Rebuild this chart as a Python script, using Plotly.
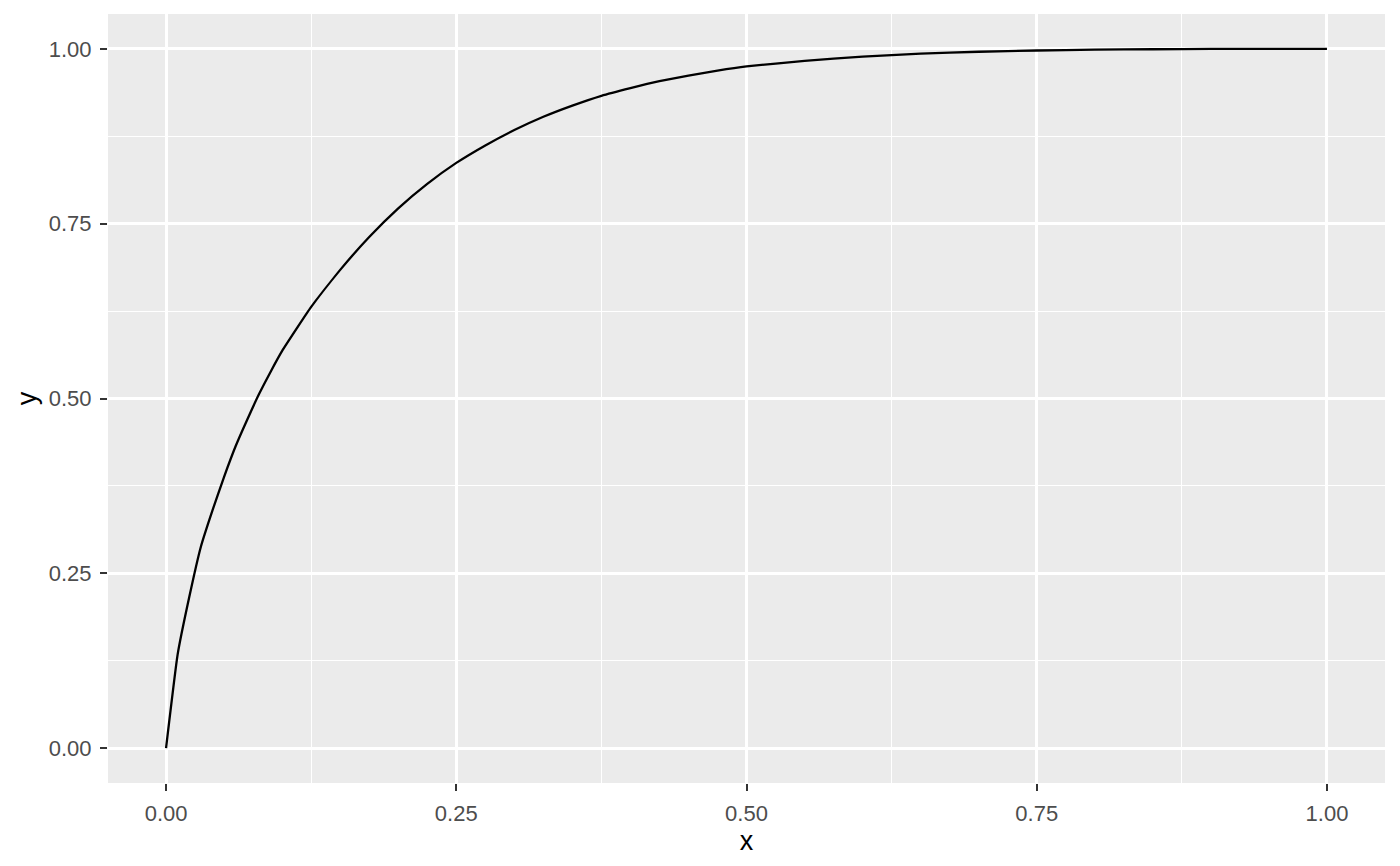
import plotly.graph_objects as go

x_vals = [0, 0.01, 0.02, 0.03, 0.04, 0.05, 0.06, 0.07, 0.08, 0.09, 0.10,
          0.125, 0.15, 0.175, 0.20, 0.225, 0.25, 0.275, 0.30, 0.325, 0.35,
          0.375, 0.40, 0.425, 0.45, 0.475, 0.50, 0.55, 0.60, 0.65, 0.70,
          0.75, 0.80, 0.85, 0.90, 1.00]
y_vals = [0.000, 0.134, 0.216, 0.288, 0.340, 0.388, 0.432, 0.470, 0.506, 0.538, 0.568,
          0.631, 0.684, 0.731, 0.772, 0.807, 0.837, 0.862, 0.884, 0.903, 0.919,
          0.933, 0.944, 0.954, 0.962, 0.969, 0.975, 0.983, 0.989, 0.9932, 0.9960,
          0.9978, 0.9990, 0.9996, 1.000, 1.000]

x_ticks = [0, 0.25, 0.5, 0.75, 1.0]
x_labels = ["0.00", "0.25", "0.50", "0.75", "1.00"]
y_ticks = [0, 0.25, 0.5, 0.75, 1.0]
y_labels = ["0.00", "0.25", "0.50", "0.75", "1.00"]

FONT = "Liberation Sans, Arial, sans-serif"

fig = go.Figure()
fig.add_trace(go.Scatter(x=x_vals, y=y_vals, mode="lines",
                         line=dict(color="black", width=2.3, shape="spline", smoothing=0.4),
                         showlegend=False))

axis_common = dict(
    showgrid=True, gridcolor="white", gridwidth=2.6,
    zeroline=False, showline=False,
    ticks="outside", ticklen=7, tickwidth=2.2, tickcolor="#333333",
    tickfont=dict(family=FONT, size=22, color="#4D4D4D"),
    title_font=dict(family=FONT, size=27, color="black"),
    minor=dict(showgrid=True, gridcolor="white", gridwidth=1.3, dtick=0.125, tick0=0, ticks=""),
)

fig.update_layout(
    width=1400, height=866,
    margin=dict(l=108, r=15, t=14, b=83),
    paper_bgcolor="white", plot_bgcolor="#EBEBEB",
    xaxis=dict(range=[-0.05, 1.05], tickvals=x_ticks, ticktext=x_labels,
               ticklabelstandoff=4,
               title=dict(text="x", standoff=1), **axis_common),
    yaxis=dict(range=[-0.05, 1.05], tickvals=y_ticks, ticktext=y_labels,
               ticklabelstandoff=4,
               title=dict(text="y", standoff=4), **axis_common),
)

fig.write_html("out.html", config={"displayModeBar": False},
               post_script="document.body.style.margin='0';")
